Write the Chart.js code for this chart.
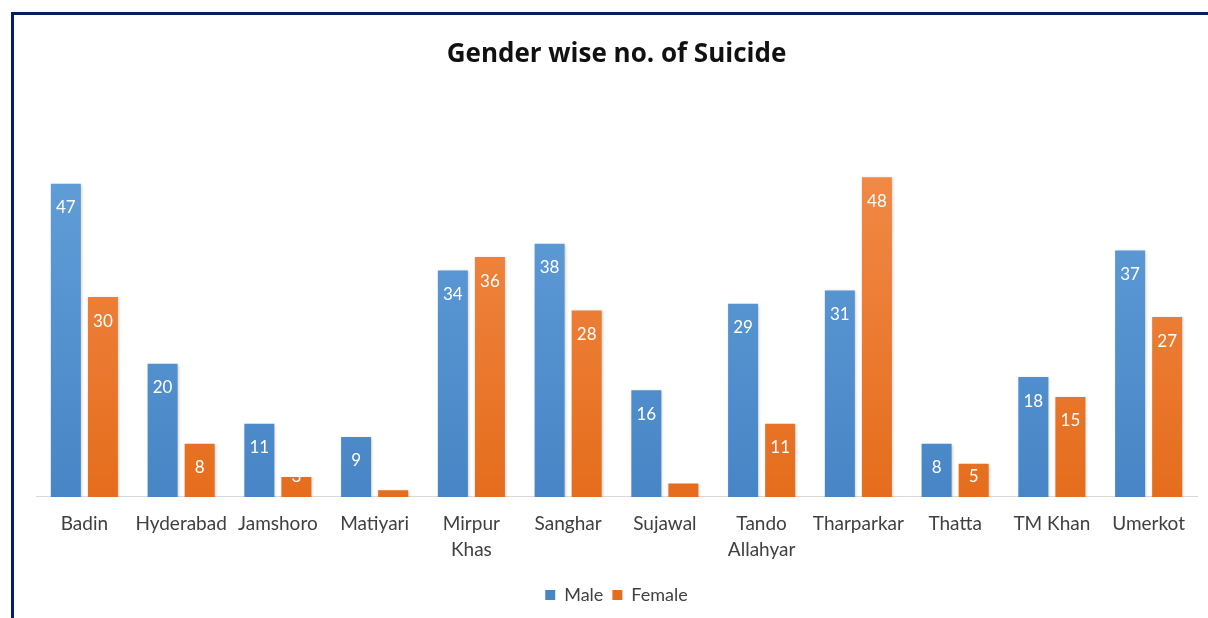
<!DOCTYPE html>
<html>
<head>
<meta charset="utf-8">
<script src="https://cdn.jsdelivr.net/npm/chart.js@4.4.1/dist/chart.umd.min.js"></script>
<style>
  html, body { margin: 0; padding: 0; background: #fff; }
  #wrap { position: relative; width: 1208px; height: 618px; overflow: hidden; }
  #frame {
    position: absolute; left: 11px; top: 12px; width: 1220px; height: 640px;
    border-top: 3px solid #002060; border-left: 3px solid #002060;
    pointer-events: none;
  }
  canvas { position: absolute; left: 0; top: 0; }
</style>
</head>
<body>
<div id="wrap">
  <canvas id="chart" width="1208" height="618"></canvas>
  <div id="frame"></div>
</div>
<script>
const districts = [
  'Badin', 'Hyderabad', 'Jamshoro', 'Matiyari', ['Mirpur', 'Khas'], 'Sanghar',
  'Sujawal', ['Tando', 'Allahyar'], 'Tharparkar', 'Thatta', 'TM Khan', 'Umerkot'
];
const maleCounts = [47, 20, 11, 9, 34, 38, 16, 29, 31, 8, 18, 37];
const femaleCounts = [30, 8, 3, 1, 36, 28, 2, 11, 48, 5, 15, 27];
const yMax = 60;

const FONT = 'Lato, "Open Sans", sans-serif';

function barGradient(top, bottom) {
  return function (context) {
    const area = context.chart.chartArea;
    if (!area) return bottom;
    const g = context.chart.ctx.createLinearGradient(0, area.top, 0, area.bottom);
    g.addColorStop(0, top);
    g.addColorStop(1, bottom);
    return g;
  };
}

// soft shadow under the bars, like the Excel original
const barShadow = {
  id: 'barShadow',
  beforeDatasetsDraw(chart) {
    const ctx = chart.ctx;
    ctx.save();
    ctx.shadowColor = 'rgba(0, 0, 0, 0.22)';
    ctx.shadowBlur = 3;
    ctx.shadowOffsetX = 1;
    ctx.shadowOffsetY = 1;
  },
  afterDatasetsDraw(chart) {
    chart.ctx.restore();
  }
};

// value labels at the inside end of each bar (never lower than 20px above the axis)
const valueLabels = {
  id: 'valueLabels',
  afterDraw(chart) {
    const ctx = chart.ctx;
    ctx.save();
    ctx.font = '17px ' + FONT;
    ctx.fillStyle = '#ffffff';
    ctx.textAlign = 'center';
    ctx.textBaseline = 'middle';
    chart.data.datasets.forEach((dataset, i) => {
      const meta = chart.getDatasetMeta(i);
      meta.data.forEach((bar, index) => {
        const value = dataset.data[index];
        const y = Math.min(bar.y + 24, bar.base - 20);
        ctx.fillText(value, bar.x, y);
      });
    });
    ctx.restore();
  }
};

new Chart(document.getElementById('chart'), {
  type: 'bar',
  data: {
    labels: districts,
    datasets: [
      {
        label: 'Male',
        data: maleCounts,
        backgroundColor: barGradient('#66a3dc', '#4785c6'),
        categoryPercentage: 0.766,
        barPercentage: 0.81
      },
      {
        label: 'Female',
        data: femaleCounts,
        backgroundColor: barGradient('#f48f50', '#e56d1d'),
        categoryPercentage: 0.766,
        barPercentage: 0.81
      }
    ]
  },
  plugins: [barShadow, valueLabels],
  options: {
    responsive: false,
    animation: false,
    layout: {
      padding: { top: 14, left: 36, right: 11, bottom: 4 }
    },
    scales: {
      y: {
        display: false,
        min: 0,
        max: yMax
      },
      x: {
        grid: { display: false, drawTicks: false },
        border: { display: true, color: '#d9d9d9', width: 1 },
        ticks: {
          color: '#404040',
          padding: 14,
          maxRotation: 0,
          autoSkip: false,
          font: { family: FONT, size: 19, lineHeight: 1.37 }
        }
      }
    },
    plugins: {
      title: {
        display: true,
        text: 'Gender wise no. of Suicide',
        color: '#111111',
        font: { family: '"Open Sans", Lato, sans-serif', size: 26, weight: 'bold', lineHeight: 1.2 },
        padding: { top: 25, bottom: 27 }
      },
      legend: {
        display: true,
        position: 'bottom',
        labels: {
          color: '#404040',
          boxWidth: 10,
          boxHeight: 10,
          padding: 9,
          font: { family: FONT, size: 18 }
        }
      },
      tooltip: { enabled: false }
    }
  }
});
</script>
</body>
</html>
